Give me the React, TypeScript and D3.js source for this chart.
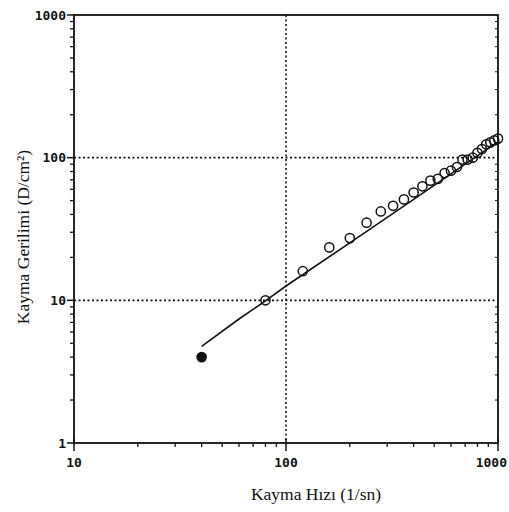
import React from 'react';
import * as d3 from 'd3';

// Measured data (shear rate 1/s, shear stress D/cm²)
const shearRate = [40, 80, 120, 160, 200, 240, 280, 320, 360, 400, 440, 480, 520, 560, 600, 640, 680, 720, 760, 800, 840, 880, 920, 960, 1000];
const shearStress = [4.0, 10, 16, 23.5, 27.3, 35, 42, 46, 51, 57, 63, 69, 71, 78, 81, 86, 97, 97, 100, 108, 115, 124, 128, 132, 136];
// Which points are drawn filled
const filledFlags = [true, false, false, false, false, false, false, false, false, false, false, false, false, false, false, false, false, false, false, false, false, false, false, false, false];

// Fitted curve
const fitRate = [40, 60, 80, 100, 200, 400, 700, 1000];
const fitStress = [4.75, 7.4, 9.9, 12.6, 25.3, 51, 90, 129];

const xTickValues = [10, 100, 1000];
const xTickLabels = ['10', '100', '1000'];
const yTickValues = [1, 10, 100, 1000];
const yTickLabels = ['1', '10', '100', '1000'];
const xGrid = [100];
const yGrid = [10, 100];

const xTitle = 'Kayma Hızı (1/sn)';
const yTitle = 'Kayma Gerilimi (D/cm²)';

export default function App() {
  const W = 509, H = 512;
  const L = 74, R = 498, T = 15, B = 443;
  const x = d3.scaleLog().domain([10, 1000]).range([L, R]);
  const y = d3.scaleLog().domain([1, 1000]).range([B, T]);

  const xMinor: number[] = [];
  for (let d = 10; d < 1000; d *= 10) for (let k = 2; k <= 9; k++) xMinor.push(d * k);
  const yMinor: number[] = [];
  for (let d = 1; d < 1000; d *= 10) for (let k = 2; k <= 9; k++) yMinor.push(d * k);

  const line = d3.line<number>()
    .x((_, i) => x(fitRate[i]))
    .y((_, i) => y(fitStress[i]));
  const linePath = line(fitRate) || '';

  const tickFont = { fontFamily: '"DejaVu Sans Mono", monospace', fontSize: 13, fontWeight: 700 as const, fill: '#111' };
  const titleFont = { fontFamily: '"Liberation Serif", "Times New Roman", serif', fontSize: 17.5, fill: '#111' };

  return (
    <svg width={W} height={H} style={{ position: 'absolute', left: 0, top: 0, background: '#fff' }}>
      <rect x={0} y={0} width={W} height={H} fill="#fff" />
      {/* grid */}
      {xGrid.map((v) => (
        <line key={'gx' + v} x1={x(v)} x2={x(v)} y1={T} y2={B} stroke="#111" strokeWidth={1.6} strokeDasharray="2,2.5" />
      ))}
      {yGrid.map((v) => (
        <line key={'gy' + v} x1={L} x2={R} y1={y(v)} y2={y(v)} stroke="#111" strokeWidth={1.6} strokeDasharray="2,2.5" />
      ))}
      {/* frame */}
      <rect x={L} y={T} width={R - L} height={B - T} fill="none" stroke="#111" strokeWidth={1.8} />
      {/* y ticks */}
      {yTickValues.map((v) => (
        <line key={'yt' + v} x1={L - 7} x2={L} y1={y(v)} y2={y(v)} stroke="#111" strokeWidth={1.5} />
      ))}
      {yMinor.map((v) => (
        <line key={'ym' + v} x1={L - 4} x2={L} y1={y(v)} y2={y(v)} stroke="#111" strokeWidth={1.3} />
      ))}
      {yMinor.map((v) => (
        <line key={'ymr' + v} x1={R - 3} x2={R} y1={y(v)} y2={y(v)} stroke="#111" strokeWidth={1} />
      ))}
      {/* x ticks */}
      {xTickValues.map((v) => (
        <line key={'xt' + v} x1={x(v)} x2={x(v)} y1={B - 4} y2={B + 8} stroke="#111" strokeWidth={1.5} />
      ))}
      {xMinor.map((v) => (
        <line key={'xm' + v} x1={x(v)} x2={x(v)} y1={B} y2={B + 4} stroke="#111" strokeWidth={1.3} />
      ))}
      {/* tick labels */}
      {yTickValues.map((v, i) => (
        <text key={'yl' + v} x={L - 8} y={y(v)} dy="0.36em" textAnchor="end" {...tickFont}>{yTickLabels[i]}</text>
      ))}
      {xTickValues.map((v, i) => {
        const last = i === xTickValues.length - 1;
        return (
          <text key={'xl' + v} x={last ? W - 2 : x(v)} y={B + 24} textAnchor={last ? 'end' : 'middle'} {...tickFont}>{xTickLabels[i]}</text>
        );
      })}
      {/* fit line */}
      <path d={linePath} fill="none" stroke="#111" strokeWidth={1.6} />
      {/* points */}
      {shearRate.map((v, i) => (
        <circle key={'p' + i} cx={x(v)} cy={y(shearStress[i])} r={4.6}
          fill={filledFlags[i] ? '#111' : 'none'} stroke="#111" strokeWidth={1.5} />
      ))}
      {/* titles */}
      <text x={316} y={500} textAnchor="middle" {...titleFont}>{xTitle}</text>
      <text transform={`translate(29,237) rotate(-90)`} textAnchor="middle" {...titleFont}>{yTitle}</text>
    </svg>
  );
}
